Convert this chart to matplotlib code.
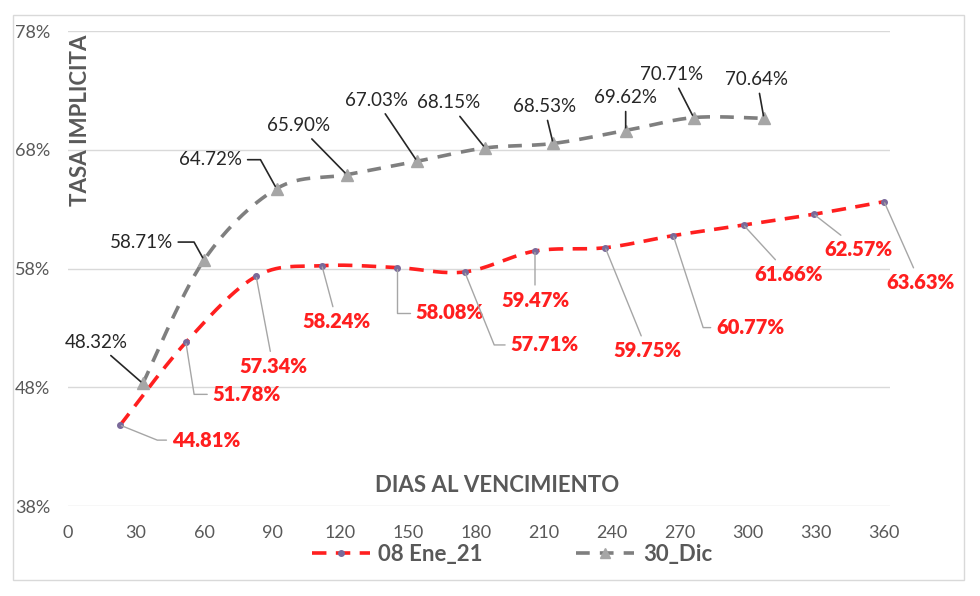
import numpy as np
import matplotlib
matplotlib.use("Agg")
import matplotlib.pyplot as plt
from matplotlib.patches import Rectangle

plt.rcParams['font.family'] = ['Lato', 'DejaVu Sans']

# data
dias_ene = [23, 52, 83, 112, 145, 175, 206, 237, 267, 298, 329, 360]
tasa_ene = [44.81, 51.78, 57.34, 58.24, 58.08, 57.71, 59.47, 59.75, 60.77, 61.66, 62.57, 63.63]
dias_dic = [33, 60, 92, 123, 154, 184, 214, 246, 276, 307]
tasa_dic = [48.32, 58.71, 64.72, 65.90, 67.03, 68.15, 68.53, 69.62, 70.71, 70.64]
x_ticks = list(range(0, 361, 30))
y_ticks = [38, 48, 58, 68, 78]

# label offsets in pixels (dx, dy) and leader style
off_ene = [(86, -15), (61, -52), (17, -90), (15, -56), (53, -45), (80, -73),
           (0, -49), (42, -103), (77, -92), (45, -49), (45, -35), (36, -81)]
conn_ene = [-22, -81, None, None, 90, -68, None, None, -72, None, None, None]
off_dic = [(-47, 41), (-63, 18), (-66, 29), (-48, 49), (-41, 61), (-36, 45),
           (-9, 37), (0, 33), (-22, 43), (-7, 39)]
conn_dic = [None, -61, -61, None, None, None, None, None, None, None]

RED = '#ff1f1f'
GRAY_TXT = '#595959'


def smooth(xs, ys, n=30):
    # catmull-rom curve through the points, like excel's smoothed line
    p = np.column_stack([xs, ys]).astype(float)
    p = np.vstack([p[0], p, p[-1]])
    out = []
    for i in range(1, len(p) - 2):
        p0, p1, p2, p3 = p[i - 1], p[i], p[i + 1], p[i + 2]
        t = np.linspace(0, 1, n, endpoint=False)[:, None]
        seg = 0.5 * ((2 * p1) + (-p0 + p2) * t + (2 * p0 - 5 * p1 + 4 * p2 - p3) * t ** 2
                     + (-p0 + 3 * p1 - 3 * p2 + p3) * t ** 3)
        out.append(seg)
    out.append(p[-2][None, :])
    out = np.vstack(out)
    return out[:, 0], out[:, 1]


fig = plt.figure(figsize=(9.8, 5.96), dpi=100)
ax = fig.add_axes([68 / 980, 1 - 506 / 596, (890 - 68) / 980, (506 - 31) / 596])
fig.patches.append(Rectangle((13 / 980, 1 - 580 / 596), 951 / 980, 565 / 596,
                             transform=fig.transFigure, fill=False,
                             edgecolor='#d9d9d9', lw=1))

for y in y_ticks:
    ax.axhline(y, color='#d9d9d9', lw=1, zorder=0)

sx, sy = smooth(dias_ene, tasa_ene)
ax.plot(sx, sy, color=RED, lw=2.6, dashes=(4, 2.6), zorder=3)
ax.plot(dias_ene, tasa_ene, ls='none', marker='o', ms=4, color='#7a6a9a', zorder=4)
sx, sy = smooth(dias_dic, tasa_dic)
ax.plot(sx, sy, color='#7f7f7f', lw=2.6, dashes=(3.8, 2.8), zorder=3)
ax.plot(dias_dic, tasa_dic, ls='none', marker='^', ms=8, color='#a6a6a6', zorder=4)

for x, y, (dx, dy), c in zip(dias_ene, tasa_ene, off_ene, conn_ene):
    cs = 'arc3' if c is None else 'angle,angleA=0,angleB=%d,rad=0' % c
    ax.annotate('%.2f%%' % y, (x, y), xytext=(dx, dy), textcoords='offset pixels',
                ha='center', va='center', color=RED, fontsize=14.5, fontweight='heavy',
                arrowprops=dict(arrowstyle='-', color='#a6a6a6', lw=1,
                                connectionstyle=cs, shrinkA=2, shrinkB=1),
                zorder=5)

for x, y, (dx, dy), c in zip(dias_dic, tasa_dic, off_dic, conn_dic):
    cs = 'arc3' if c is None else 'angle,angleA=0,angleB=%d,rad=0' % c
    ax.annotate('%.2f%%' % y, (x, y), xytext=(dx, dy), textcoords='offset pixels',
                ha='center', va='center', color='#262626', fontsize=13.5,
                arrowprops=dict(arrowstyle='-', color='#262626', lw=1.2,
                                connectionstyle=cs, shrinkA=2, shrinkB=2),
                zorder=5)

ax.set_xlim(0, 362.6)
ax.set_ylim(38, 78)
ax.set_xticks(x_ticks)
ax.set_xticklabels([str(v) for v in x_ticks])
ax.set_yticks(y_ticks)
ax.set_yticklabels(['%d%%' % v for v in y_ticks])
ax.tick_params(length=0, labelsize=13, labelcolor=GRAY_TXT)
ax.tick_params(axis='x', pad=14)
ax.tick_params(axis='y', pad=13)
for s in ax.spines.values():
    s.set_visible(False)

ax.text(0.015, 0.992, 'TASA IMPLICITA', transform=ax.transAxes,
        rotation=90, ha='center', va='top', fontsize=16, fontweight='bold', color=GRAY_TXT)
ax.text((497 - 68) / 822, (506 - 485) / 475, 'DIAS AL VENCIMIENTO', transform=ax.transAxes,
        ha='center', va='center', fontsize=16, fontweight='bold', color=GRAY_TXT)

h1, = ax.plot([], [], color=RED, lw=2.6, dashes=(4, 2.6), marker='o', ms=4,
              mfc='#7a6a9a', mec='#7a6a9a')
h2, = ax.plot([], [], color='#7f7f7f', lw=2.6, dashes=(3.8, 2.8), marker='^', ms=7,
              mfc='#a6a6a6', mec='#a6a6a6')
leg = fig.legend([h1, h2], ['08 Ene_21', '30_Dic'], loc='center', ncol=2,
                 bbox_to_anchor=(512 / 980, 1 - 554 / 596), frameon=False,
                 handlelength=2.6, columnspacing=4.2, handletextpad=0.4,
                 prop=dict(size=16, weight='bold'))
for t in leg.get_texts():
    t.set_color(GRAY_TXT)

fig.savefig('out.png', dpi=100)
